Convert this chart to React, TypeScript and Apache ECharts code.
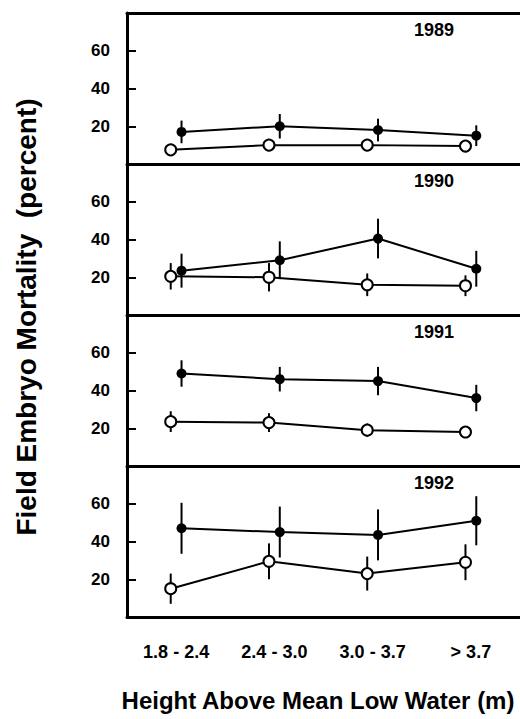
import React, { useEffect, useRef } from "react";
import * as echarts from "echarts";

const years = ["1989", "1990", "1991", "1992"];
const categories = ["1.8 - 2.4", "2.4 - 3.0", "3.0 - 3.7", "> 3.7"];
const yTicks = [20, 40, 60];

const filledMean = [
  [17, 20, 18, 15],
  [23.5, 29, 40.5, 24.5],
  [49, 46, 45, 36],
  [47, 45, 43.5, 51],
];
const filledErr = [
  [6, 6.5, 6, 5.5],
  [9, 10, 10.5, 9.5],
  [7, 6.5, 7.5, 7],
  [13.5, 13.5, 13.5, 13],
];
const openMean = [
  [7.5, 10, 10, 9.5],
  [20.5, 20, 16, 15.5],
  [23.5, 23, 19, 18],
  [15, 29.5, 23, 29],
];
const openErr = [
  [2, 2, 2, 2],
  [7, 7.5, 6, 5.5],
  [5.5, 5, 3.5, 3],
  [8, 9.5, 9, 9.5],
];

const yTitle = "Field Embryo Mortality  (percent)";
const xTitle = "Height Above Mean Low Water (m)";

const FONT = "'Liberation Sans', Arial, sans-serif";
const GRID_TOP = 13;
const GRID_H = 151;
const GRID_LEFT = 127;
const DODGE = 0.055;

export default function App() {
  const ref = useRef<HTMLDivElement>(null);
  useEffect(() => {
    if (!ref.current) return;
    const chart = echarts.init(ref.current, undefined, { renderer: "svg" });
    const grids: any[] = [];
    const xAxes: any[] = [];
    const yAxes: any[] = [];
    const series: any[] = [];
    const graphics: any[] = [];

    years.forEach((yr, p) => {
      const top = GRID_TOP + p * GRID_H;
      grids.push({ left: GRID_LEFT, right: 0, top, height: GRID_H });
      const catIdx = xAxes.length;
      xAxes.push({
        type: "category",
        gridIndex: p,
        data: categories,
        boundaryGap: true,
        position: "bottom",
        axisLine: { show: true, onZero: false, lineStyle: { color: "#000", width: 3 } },
        axisTick: { show: false },
        axisLabel: {
          show: p === years.length - 1,
          margin: 26,
          color: "#000",
          fontFamily: FONT,
          fontWeight: "bold",
          fontSize: 18,
        },
      });
      void catIdx;
      const vIdx = xAxes.length;
      xAxes.push({
        type: "value",
        gridIndex: p,
        min: -0.5,
        max: categories.length - 0.5,
        show: false,
        axisLine: { onZero: false },
      });
      if (p === 0) {
        xAxes.push({
          type: "category",
          gridIndex: p,
          data: categories,
          position: "top",
          axisLine: { show: true, onZero: false, lineStyle: { color: "#000", width: 3 } },
          axisTick: { show: false },
          axisLabel: { show: false },
        });
      }
      yAxes.push({
        type: "value",
        gridIndex: p,
        min: 0,
        max: 80,
        interval: 20,
        position: "left",
        axisLine: { show: true, onZero: false, lineStyle: { color: "#000", width: 3 } },
        axisTick: { show: true, inside: true, length: 9, lineStyle: { color: "#000", width: 2 } },
        splitLine: { show: false },
        axisLabel: {
          margin: 17,
          color: "#000",
          fontFamily: FONT,
          fontWeight: "bold",
          fontSize: 17,
          formatter: (v: number) => (yTicks.includes(v) ? String(v) : ""),
        },
      });

      const groups = [
        { mean: openMean[p], err: openErr[p], off: -DODGE, open: true },
        { mean: filledMean[p], err: filledErr[p], off: DODGE, open: false },
      ];
      groups.forEach((g) => {
        const pts = g.mean.map((v, i) => [i + g.off, v, g.err[i]]);
        series.push({
          type: "custom",
          xAxisIndex: vIdx,
          yAxisIndex: p,
          z: 1,
          data: pts,
          renderItem: (params: any, api: any) => {
            const x = api.value(0);
            const m = api.value(1);
            const e = api.value(2);
            const a = api.coord([x, m + e]);
            const b = api.coord([x, m - e]);
            return {
              type: "line",
              shape: { x1: a[0], y1: a[1], x2: b[0], y2: b[1] },
              style: { stroke: "#000", lineWidth: 2 },
            };
          },
        });
        series.push({
          type: "line",
          xAxisIndex: vIdx,
          yAxisIndex: p,
          z: 3,
          data: pts.map((d) => [d[0], d[1]]),
          symbol: "circle",
          symbolSize: g.open ? 11 : 10,
          lineStyle: { color: "#000", width: 2 },
          itemStyle: g.open
            ? { color: "#fff", borderColor: "#000", borderWidth: 2 }
            : { color: "#000", borderColor: "#000", borderWidth: 0 },
        });
      });

      graphics.push({
        type: "text",
        x: 434,
        y: top + 17,
        style: {
          text: yr,
          fill: "#000",
          font: `bold 18px ${FONT}`,
          textAlign: "center",
          textVerticalAlign: "middle",
        },
      });
    });

    graphics.push({
      type: "text",
      x: 26,
      y: 317,
      rotation: Math.PI / 2,
      style: {
        text: yTitle,
        fill: "#000",
        font: `bold 28px ${FONT}`,
        textAlign: "center",
        textVerticalAlign: "middle",
      },
    });
    graphics.push({
      type: "text",
      x: 318,
      y: 700,
      style: {
        text: xTitle,
        fill: "#000",
        font: `bold 24px ${FONT}`,
        textAlign: "center",
        textVerticalAlign: "middle",
      },
    });

    chart.setOption({
      animation: false,
      backgroundColor: "#fff",
      grid: grids,
      xAxis: xAxes,
      yAxis: yAxes,
      series,
      graphic: graphics,
    });
    return () => chart.dispose();
  }, []);
  return (
    <div
      ref={ref}
      style={{ position: "fixed", left: 0, top: 0, width: 520, height: 719, background: "#fff" }}
    />
  );
}
